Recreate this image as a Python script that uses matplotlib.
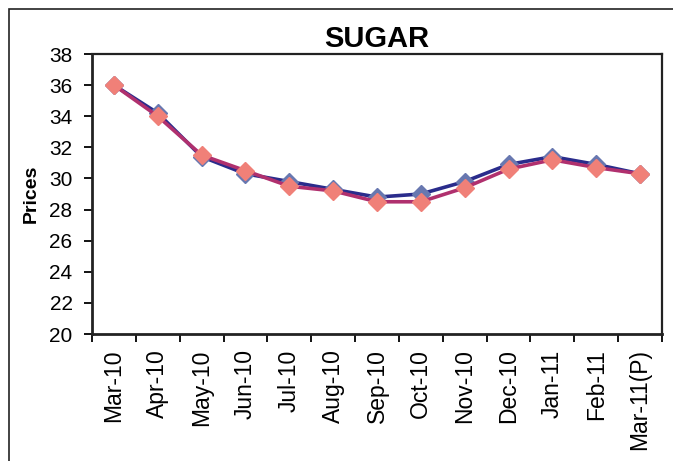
import numpy as np
import matplotlib.pyplot as plt
from matplotlib.patches import Rectangle

plt.rcParams['font.family'] = ['Liberation Sans', 'DejaVu Sans']

months = ["Mar-10", "Apr-10", "May-10", "Jun-10", "Jul-10", "Aug-10", "Sep-10",
          "Oct-10", "Nov-10", "Dec-10", "Jan-11", "Feb-11", "Mar-11(P)"]
series_a = [36.0, 34.2, 31.4, 30.3, 29.8, 29.3, 28.8, 29.0, 29.8, 30.9, 31.4, 30.9, 30.3]
series_b = [36.0, 34.0, 31.5, 30.5, 29.5, 29.2, 28.5, 28.5, 29.4, 30.6, 31.2, 30.7, 30.3]
yticks = list(range(20, 39, 2))

fig = plt.figure(figsize=(6.73, 4.61), dpi=100)
fig.patches.append(Rectangle((9 / 673, -0.1), 1.2, (461 - 9) / 461 + 0.1,
                             transform=fig.transFigure, fill=False,
                             edgecolor='#222222', linewidth=1.2))

ax = fig.add_axes([92 / 673, 1 - 334 / 461, (662 - 92) / 673, (334 - 54) / 461])
x = np.arange(len(months))

ax.plot(x, series_a, color='#2A2C8C', linewidth=2.6, marker='D', markersize=9,
        markerfacecolor='#6878B0', markeredgecolor='#6878B0', zorder=3)
ax.plot(x, series_b, color='#B0306E', linewidth=2.6, marker='D', markersize=9,
        markerfacecolor='#F08078', markeredgecolor='#F08078', zorder=4)

ax.set_xlim(-0.5, len(months) - 0.5)
ax.set_ylim(20, 38)
ax.set_yticks(yticks)
ax.set_yticklabels([str(v) for v in yticks], fontsize=15)

ax.set_xticks(x)
ax.set_xticklabels(months, rotation=90, fontsize=16.5)
ax.tick_params(axis='x', which='major', length=0, pad=11)
ax.set_xticks(np.arange(-0.5, len(months), 1), minor=True)
ax.tick_params(axis='x', which='minor', length=6, width=1.3, direction='out')
ax.tick_params(axis='y', length=6, width=1.3, direction='out', pad=8)

for side in ['left', 'bottom', 'top', 'right']:
    ax.spines[side].set_color('#222222')
ax.spines['left'].set_linewidth(2)
ax.spines['bottom'].set_linewidth(2)
ax.spines['top'].set_linewidth(1.6)
ax.spines['right'].set_linewidth(1.6)

ax.set_ylabel("Prices", fontsize=14, fontweight='bold', labelpad=7)
ax.set_title("SUGAR", fontsize=21, fontweight='bold', pad=5)

fig.savefig("out.png", dpi=100)
